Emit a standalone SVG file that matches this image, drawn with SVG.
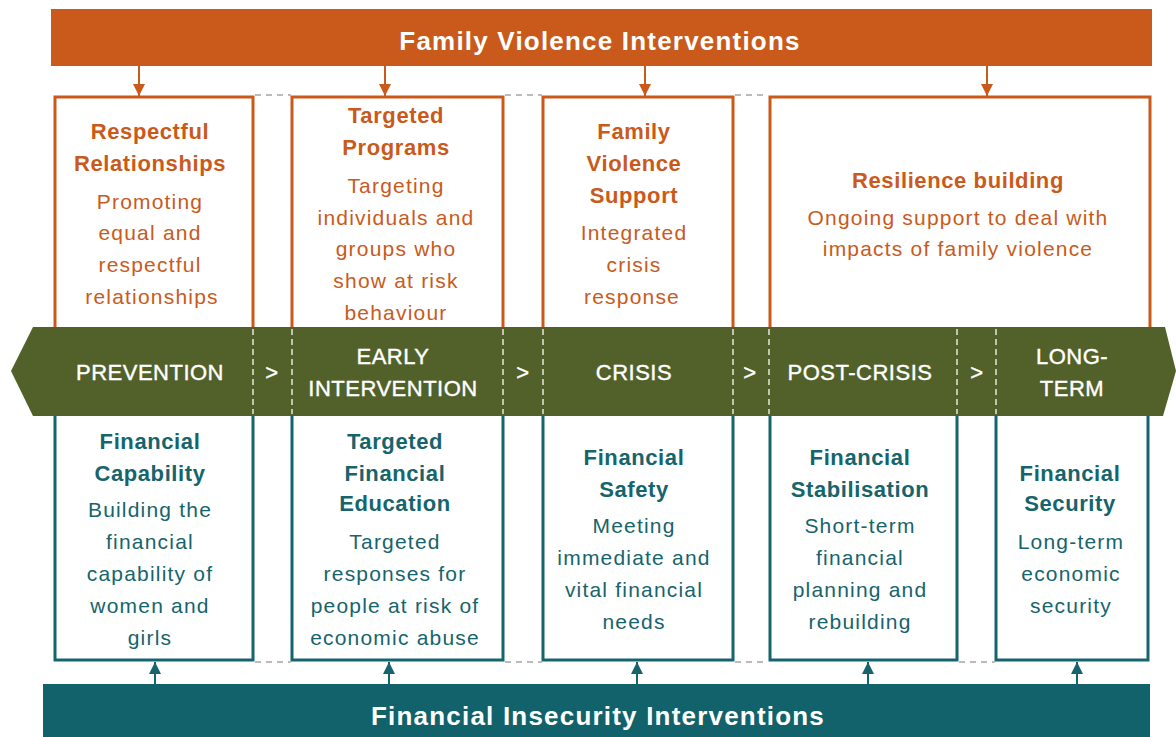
<svg xmlns="http://www.w3.org/2000/svg" width="1176" height="737" viewBox="0 0 1176 737">
<style>
.bg{fill:#ffffff}
.obox{fill:#ffffff;stroke:#C95A1B;stroke-width:3}
.tbox{fill:#ffffff;stroke:#16646C;stroke-width:3}
.ot{fill:#C95A1B;font-family:"Liberation Sans",Arial,sans-serif;font-weight:bold;font-size:22px;letter-spacing:0.6px;text-anchor:middle}
.ob{fill:#C95A1B;font-family:"Liberation Sans",Arial,sans-serif;font-size:21px;letter-spacing:1.2px;text-anchor:middle}
.tt{fill:#16646C;font-family:"Liberation Sans",Arial,sans-serif;font-weight:bold;font-size:22px;letter-spacing:0.6px;text-anchor:middle}
.tb{fill:#16646C;font-family:"Liberation Sans",Arial,sans-serif;font-size:21px;letter-spacing:1.2px;text-anchor:middle}
.wt{fill:#ffffff;font-family:"Liberation Sans",Arial,sans-serif;font-size:22px;letter-spacing:0.5px;text-anchor:middle;stroke:#ffffff;stroke-width:0.4}
.big{fill:#ffffff;font-family:"Liberation Sans",Arial,sans-serif;font-weight:bold;font-size:26px;letter-spacing:1.2px;text-anchor:middle}
.oarr{stroke:#C95A1B;stroke-width:2;fill:none}
.tarr{stroke:#16646C;stroke-width:2;fill:none}
.gdash{stroke:#BBBBBB;stroke-width:2;stroke-dasharray:6 5;fill:none}
.wdash{stroke:#FFFFFF;stroke-width:1.5;stroke-dasharray:6 4;fill:none;opacity:0.85}
</style>
<defs>
<marker id="ah-o" viewBox="0 0 10 10" refX="10" refY="5" markerWidth="6" markerHeight="6" orient="auto" markerUnits="strokeWidth"><path d="M0,0 L10,5 L0,10 z" fill="#C95A1B"/></marker>
<marker id="ah-t" viewBox="0 0 10 10" refX="10" refY="5" markerWidth="6" markerHeight="6" orient="auto" markerUnits="strokeWidth"><path d="M0,0 L10,5 L0,10 z" fill="#16646C"/></marker>
</defs>
<rect class="bg" x="0" y="0" width="1176" height="737"/>

<g id="family-violence-interventions">
<rect x="51" y="9" width="1101" height="57" fill="#C95A1B"/>
<text class="big" x="600" y="50">Family Violence Interventions</text>
</g>

<g id="financial-insecurity-interventions">
<rect x="43" y="684" width="1107" height="60" fill="#12626B"/>
<text class="big" x="598" y="725">Financial Insecurity Interventions</text>
</g>

<g id="respectful-relationships">
<rect class="obox" x="55" y="97" width="198" height="236"/>
<text class="ot" x="150" y="139">Respectful</text>
<text class="ot" x="150" y="171">Relationships</text>
<text class="ob" x="150" y="209">Promoting</text>
<text class="ob" x="150" y="240">equal and</text>
<text class="ob" x="150" y="272">respectful</text>
<text class="ob" x="152" y="304">relationships</text>
</g>

<g id="targeted-programs">
<rect class="obox" x="292" y="97" width="211" height="236"/>
<text class="ot" x="396" y="123">Targeted</text>
<text class="ot" x="396" y="155">Programs</text>
<text class="ob" x="396" y="193">Targeting</text>
<text class="ob" x="396" y="225">individuals and</text>
<text class="ob" x="396" y="256">groups who</text>
<text class="ob" x="396" y="288">show at risk</text>
<text class="ob" x="396" y="320">behaviour</text>
</g>

<g id="family-violence-support">
<rect class="obox" x="543" y="97" width="190" height="236"/>
<text class="ot" x="634" y="139">Family</text>
<text class="ot" x="634" y="171">Violence</text>
<text class="ot" x="634" y="203">Support</text>
<text class="ob" x="634" y="240">Integrated</text>
<text class="ob" x="634" y="272">crisis</text>
<text class="ob" x="632" y="304">response</text>
</g>

<g id="resilience-building">
<rect class="obox" x="770" y="97" width="380" height="236"/>
<text class="ot" x="958" y="188">Resilience building</text>
<text class="ob" x="958" y="225">Ongoing support to deal with</text>
<text class="ob" x="958" y="256">impacts of family violence</text>
</g>

<g id="financial-capability">
<rect class="tbox" x="55" y="410" width="198" height="250"/>
<text class="tt" x="150" y="449">Financial</text>
<text class="tt" x="150" y="481">Capability</text>
<text class="tb" x="150" y="517">Building the</text>
<text class="tb" x="150" y="549">financial</text>
<text class="tb" x="150" y="581">capability of</text>
<text class="tb" x="150" y="613">women and</text>
<text class="tb" x="150" y="645">girls</text>
</g>

<g id="targeted-financial-education">
<rect class="tbox" x="292" y="410" width="211" height="250"/>
<text class="tt" x="395" y="449">Targeted</text>
<text class="tt" x="395" y="481">Financial</text>
<text class="tt" x="395" y="511">Education</text>
<text class="tb" x="395" y="549">Targeted</text>
<text class="tb" x="395" y="581">responses for</text>
<text class="tb" x="395" y="613">people at risk of</text>
<text class="tb" x="395" y="645">economic abuse</text>
</g>

<g id="financial-safety">
<rect class="tbox" x="543" y="410" width="190" height="250"/>
<text class="tt" x="634" y="465">Financial</text>
<text class="tt" x="634" y="497">Safety</text>
<text class="tb" x="634" y="533">Meeting</text>
<text class="tb" x="634" y="565">immediate and</text>
<text class="tb" x="634" y="597">vital financial</text>
<text class="tb" x="634" y="629">needs</text>
</g>

<g id="financial-stabilisation">
<rect class="tbox" x="770" y="410" width="187" height="250"/>
<text class="tt" x="860" y="465">Financial</text>
<text class="tt" x="860" y="497">Stabilisation</text>
<text class="tb" x="860" y="533">Short-term</text>
<text class="tb" x="860" y="565">financial</text>
<text class="tb" x="860" y="597">planning and</text>
<text class="tb" x="860" y="629">rebuilding</text>
</g>

<g id="financial-security">
<rect class="tbox" x="996" y="410" width="152" height="250"/>
<text class="tt" x="1070" y="481">Financial</text>
<text class="tt" x="1070" y="511">Security</text>
<text class="tb" x="1071" y="549">Long-term</text>
<text class="tb" x="1071" y="581">economic</text>
<text class="tb" x="1071" y="613">security</text>
</g>

<g id="timeline-band">
<path d="M33,327 L1165,327 L1176,371 L1163,416 L33,416 L11,371 Z" fill="#526129"/>
<path class="wdash" d="M253,329 V414 M292,329 V414 M503,329 V414 M543,329 V414 M733,329 V414 M769,329 V414 M957,329 V414 M996,329 V414"/>
<text class="wt" x="150" y="380">PREVENTION</text>
<text class="wt" x="272" y="380">&gt;</text>
<text class="wt" x="393" y="364">EARLY</text>
<text class="wt" x="393" y="396">INTERVENTION</text>
<text class="wt" x="523" y="380">&gt;</text>
<text class="wt" x="634" y="380">CRISIS</text>
<text class="wt" x="750" y="380">&gt;</text>
<text class="wt" x="860" y="380">POST-CRISIS</text>
<text class="wt" x="977" y="380">&gt;</text>
<text class="wt" x="1072" y="364">LONG-</text>
<text class="wt" x="1072" y="396">TERM</text>
</g>

<g id="connectors">
<path class="oarr" d="M139,66 V96" marker-end="url(#ah-o)"/>
<path class="oarr" d="M385,66 V96" marker-end="url(#ah-o)"/>
<path class="oarr" d="M645,66 V96" marker-end="url(#ah-o)"/>
<path class="oarr" d="M987,66 V96" marker-end="url(#ah-o)"/>
<path class="tarr" d="M155,684 V662" marker-end="url(#ah-t)"/>
<path class="tarr" d="M389,684 V662" marker-end="url(#ah-t)"/>
<path class="tarr" d="M637,684 V662" marker-end="url(#ah-t)"/>
<path class="tarr" d="M868,684 V662" marker-end="url(#ah-t)"/>
<path class="tarr" d="M1077,684 V662" marker-end="url(#ah-t)"/>
<path class="gdash" d="M255,95 H291 M505,95 H542 M735,95 H768"/>
<path class="gdash" d="M255,662 H291 M505,662 H542 M735,662 H768 M959,662 H995"/>
</g>
</svg>
